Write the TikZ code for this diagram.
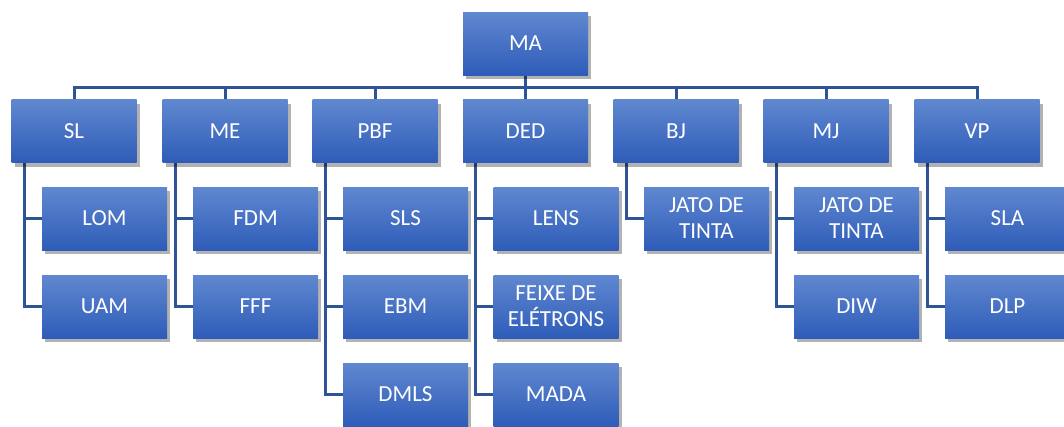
\documentclass[tikz,border=0pt]{standalone}
\usepackage{fontspec}
\setmainfont{Carlito}
\usetikzlibrary{shadows,backgrounds}
\definecolor{boxtop}{RGB}{96,136,208}
\definecolor{boxbot}{RGB}{46,92,184}
\definecolor{linkblue}{RGB}{47,84,150}

\begin{document}
\begin{tikzpicture}[x=1pt, y=1pt,
  box/.style={rectangle, minimum width=125pt, minimum height=63pt, inner sep=2pt,
    top color=boxtop, bottom color=boxbot, text=white, align=center,
    font=\fontsize{23}{26}\selectfont,
    drop shadow={shadow xshift=3pt, shadow yshift=-4pt, opacity=0.3, fill=black}},
  link/.style={draw=linkblue, line width=3pt}]
\useasboundingbox (0,0) rectangle (1064,-426);

% top
\node[box] (MA) at (525.5,-43.5) {MA};

% level 1
\foreach \n/\x in {SL/74, ME/225, PBF/375, DED/525.5, BJ/676, MJ/826, VP/977}
  \node[box] (\n) at (\x,-131) {\n};

% level 2
\node[box] (LOM)   at (104.5,-218.5) {LOM};
\node[box] (UAM)   at (104.5,-306.5) {UAM};
\node[box] (FDM)   at (255.5,-218.5) {FDM};
\node[box] (FFF)   at (255.5,-306.5) {FFF};
\node[box] (SLS)   at (405.5,-218.5) {SLS};
\node[box] (EBM)   at (405.5,-306.5) {EBM};
\node[box] (DMLS)  at (405.5,-394.5) {DMLS};
\node[box] (LENS)  at (556,-218.5) {LENS};
\node[box] (FEIXE) at (556,-306.5) {FEIXE DE\\ELÉTRONS};
\node[box] (MADA)  at (556,-394.5) {MADA};
\node[box] (JATOa) at (706.5,-218.5) {JATO DE\\TINTA};
\node[box] (JATOb) at (856.5,-218.5) {JATO DE\\TINTA};
\node[box] (DIW)   at (856.5,-306.5) {DIW};
\node[box] (SLA)   at (1007.5,-218.5) {SLA};
\node[box] (DLP)   at (1007.5,-306.5) {DLP};

\begin{scope}[on background layer]
  \coordinate (bus) at ([yshift=-12.5pt]MA.south);
  \draw[link] (MA.south) -- (bus);
  \foreach \n in {SL, ME, PBF, DED, BJ, MJ, VP}
    \draw[link] (bus) -| (\n.north);
  \foreach \p/\c in {SL/LOM, SL/UAM, ME/FDM, ME/FFF, PBF/SLS, PBF/EBM, PBF/DMLS,
      DED/LENS, DED/FEIXE, DED/MADA, BJ/JATOa, MJ/JATOb, MJ/DIW, VP/SLA, VP/DLP}
    \draw[link] ([xshift=-50pt]\p.south) |- (\c.west);
\end{scope}
\end{tikzpicture}
\end{document}
